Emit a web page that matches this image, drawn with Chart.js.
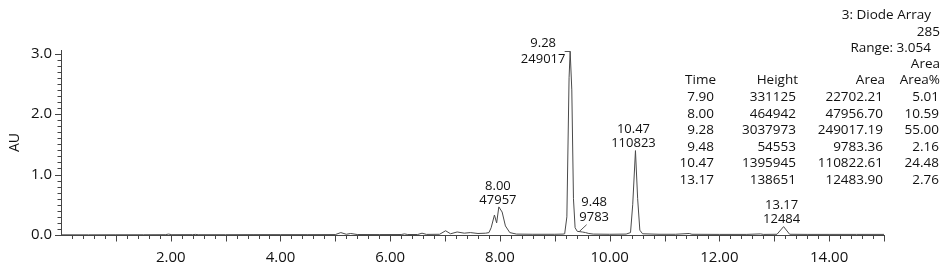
<!DOCTYPE html>
<html>
<head>
<meta charset="utf-8">
<script src="https://cdn.jsdelivr.net/npm/chart.js@4.4.1/dist/chart.umd.min.js"></script>
<style>
  html, body { margin: 0; padding: 0; background: #fff; }
</style>
</head>
<body>
<canvas id="chromChart" width="941" height="269"></canvas>
<script>
// --- trace (time in min, absorbance in AU) ---
const traceTime = [0.00, 0.50, 1.00, 1.50, 1.90, 1.96, 2.02, 2.40, 2.45, 2.50, 3.00, 3.50, 4.00, 4.50,
  5.00, 5.10, 5.20, 5.28, 5.40, 5.80, 6.20, 6.26, 6.32, 6.50, 6.58, 6.66, 6.90, 7.01, 7.10, 7.22, 7.35,
  7.46, 7.60, 7.74, 7.80, 7.84, 7.90, 7.94, 7.98, 8.04, 8.10, 8.18, 8.30, 8.60, 9.00, 9.15, 9.18, 9.22,
  9.26, 9.28, 9.31, 9.34, 9.37, 9.41, 9.46, 9.50, 9.56, 9.62, 9.70, 10.00, 10.30, 10.38, 10.42, 10.47,
  10.51, 10.55, 10.60, 10.90, 11.20, 11.45, 11.50, 12.00, 12.50, 12.75, 12.80, 13.05, 13.17, 13.28,
  13.60, 14.00, 14.50, 15.00];
const traceAU = [0.003, 0.003, 0.004, 0.004, 0.005, 0.015, 0.005, 0.006, 0.010, 0.005, 0.005, 0.006, 0.006, 0.006,
  0.007, 0.040, 0.012, 0.025, 0.008, 0.007, 0.008, 0.018, 0.008, 0.008, 0.030, 0.010, 0.012, 0.070, 0.020, 0.050, 0.030,
  0.040, 0.025, 0.030, 0.040, 0.120, 0.331, 0.200, 0.465, 0.380, 0.150, 0.040, 0.015, 0.012, 0.012, 0.015, 0.020, 0.300,
  2.600, 3.038, 2.400, 0.600, 0.120, 0.060, 0.055, 0.050, 0.040, 0.025, 0.015, 0.012, 0.015, 0.040, 0.500, 1.396,
  0.600, 0.080, 0.020, 0.012, 0.012, 0.025, 0.012, 0.010, 0.010, 0.018, 0.010, 0.012, 0.139, 0.012,
  0.010, 0.010, 0.010, 0.010];

// --- peak table ---
const peakTime = ['7.90', '8.00', '9.28', '9.48', '10.47', '13.17'];
const peakHeight = [331125, 464942, 3037973, 54553, 1395945, 138651];
const peakArea = ['22702.21', '47956.70', '249017.19', '9783.36', '110822.61', '12483.90'];
const peakAreaPct = ['5.01', '10.59', '55.00', '2.16', '24.48', '2.76'];
const peakLabelled = [false, true, true, true, true, true];

const tableHeaders = ['Time', 'Height', 'Area', 'Area%'];
const detectorInfo = ['3: Diode Array', '285', 'Range: 3.054', 'Area'];

const FONT = '"Open Sans", "Noto Sans", sans-serif';
const INK = '#111';

// tick marks, peak labels and the table are painted after the chart
const overlayPlugin = {
  id: 'overlay',
  afterDraw(chart) {
    const { ctx, chartArea: area, scales: { x, y } } = chart;
    ctx.save();

    // axis tick marks (longer on whole units)
    ctx.strokeStyle = '#444';
    ctx.lineWidth = 1;
    x.ticks.forEach(t => {
      const px = Math.round(x.getPixelForValue(t.value)) + 0.5;
      const major = Math.abs(t.value - Math.round(t.value)) < 1e-6;
      if (t.value === 0) return;
      ctx.beginPath();
      ctx.moveTo(px, area.bottom);
      ctx.lineTo(px, area.bottom + (major ? 6.5 : 4));
      ctx.stroke();
    });
    y.ticks.forEach(t => {
      const py = Math.round(y.getPixelForValue(t.value)) + 0.5;
      const major = Math.abs(t.value - Math.round(t.value)) < 1e-6;
      ctx.beginPath();
      ctx.moveTo(area.left, py);
      ctx.lineTo(area.left - (major ? 6 : 3.5), py);
      ctx.stroke();
    });

    // peak labels: time over rounded area
    ctx.fillStyle = INK;
    ctx.font = '13px ' + FONT;
    ctx.textAlign = 'center';
    ctx.textBaseline = 'middle';
    ctx.strokeStyle = '#555';
    peakTime.forEach((pt, i) => {
      if (!peakLabelled[i]) return;
      const px = x.getPixelForValue(parseFloat(pt));
      const py = y.getPixelForValue(peakHeight[i] / 1e6);
      const areaTxt = String(Math.round(parseFloat(peakArea[i])));
      if (pt === '9.28') {
        // apex near the top: label sits to the left with a short leader
        const lx = px - 27;
        ctx.fillText(pt, lx, py - 8);
        ctx.fillText(areaTxt, lx, py + 8);
        ctx.beginPath();
        ctx.moveTo(px - 5.5, Math.round(py) + 0.5);
        ctx.lineTo(px, Math.round(py) + 0.5);
        ctx.stroke();
      } else if (pt === '9.48') {
        const lx = px + 13;
        ctx.fillText(pt, lx, py - 29);
        ctx.fillText(areaTxt, lx, py - 14);
        ctx.beginPath();
        ctx.moveTo(px - 2, py);
        ctx.lineTo(px + 5.5, py - 7);
        ctx.stroke();
      } else {
        const lx = px - 2;
        ctx.fillText(pt, lx, py - 21);
        ctx.fillText(areaTxt, lx, py - 7);
      }
    });

    // detector info and peak table (right aligned)
    ctx.textAlign = 'right';
    ctx.font = '13.5px ' + FONT;
    const infoX = [931, 940, 931, 940];
    const infoY = [15, 32, 48, 64];
    detectorInfo.forEach((s, i) => ctx.fillText(s, infoX[i], infoY[i]));

    ctx.font = '13.5px ' + FONT;
    const colX = [716, 798, 885, 940];
    const rowY0 = 80.5, rowStep = 16.6;
    tableHeaders.forEach((h, c) => ctx.fillText(h, colX[c], rowY0));
    peakTime.forEach((pt, r) => {
      const ry = rowY0 + rowStep * (r + 1);
      ctx.fillText(pt, colX[0] - 2, ry);
      ctx.fillText(String(peakHeight[r]), colX[1] - 2, ry);
      ctx.fillText(peakArea[r], colX[2] - 2, ry);
      ctx.fillText(peakAreaPct[r], colX[3] - 1, ry);
    });

    ctx.restore();
  }
};

const ctx = document.getElementById('chromChart').getContext('2d');
new Chart(ctx, {
  type: 'line',
  data: {
    datasets: [{
      data: traceTime.map((t, i) => ({ x: t, y: traceAU[i] })),
      borderColor: '#4a4a4a',
      borderWidth: 1,
      pointRadius: 0,
      tension: 0,
      fill: false,
      clip: false
    }]
  },
  options: {
    responsive: false,
    animation: false,
    layout: { padding: { top: 50, right: 57, left: 0, bottom: 0 } },
    plugins: { legend: { display: false }, tooltip: { enabled: false } },
    scales: {
      x: {
        type: 'linear',
        min: 0,
        max: 15,
        afterBuildTicks: s => {
          const t = [];
          for (let i = 0; i <= 75; i++) t.push({ value: i / 5 });
          s.ticks = t;
        },
        afterFit: s => { s.height = 34; },
        grid: { display: false, drawTicks: false },
        border: { display: true, color: '#444', width: 1 },
        ticks: {
          autoSkip: false,
          maxRotation: 0,
          padding: 14,
          color: INK,
          font: { family: FONT, size: 15 },
          callback: v => {
            const r = Math.round(v);
            return (Math.abs(v - r) < 1e-6 && r > 0 && r % 2 === 0) ? r.toFixed(2) : '';
          }
        }
      },
      y: {
        min: 0,
        max: 3.06,
        afterBuildTicks: s => {
          const t = [];
          for (let i = 0; i <= 30; i++) t.push({ value: i / 10 });
          s.ticks = t;
        },
        afterFit: s => { s.width = 61; },
        grid: { display: false, drawTicks: false },
        border: { display: true, color: '#444', width: 1 },
        title: {
          display: true,
          text: 'AU',
          color: INK,
          font: { family: FONT, size: 14 },
          padding: { top: 6.5, bottom: 0 }
        },
        ticks: {
          autoSkip: false,
          padding: 9,
          color: INK,
          font: { family: FONT, size: 15 },
          callback: v => {
            const r = Math.round(v);
            return Math.abs(v - r) < 1e-6 ? r.toFixed(1) : '';
          }
        }
      }
    }
  },
  plugins: [overlayPlugin]
});
</script>
</body>
</html>
